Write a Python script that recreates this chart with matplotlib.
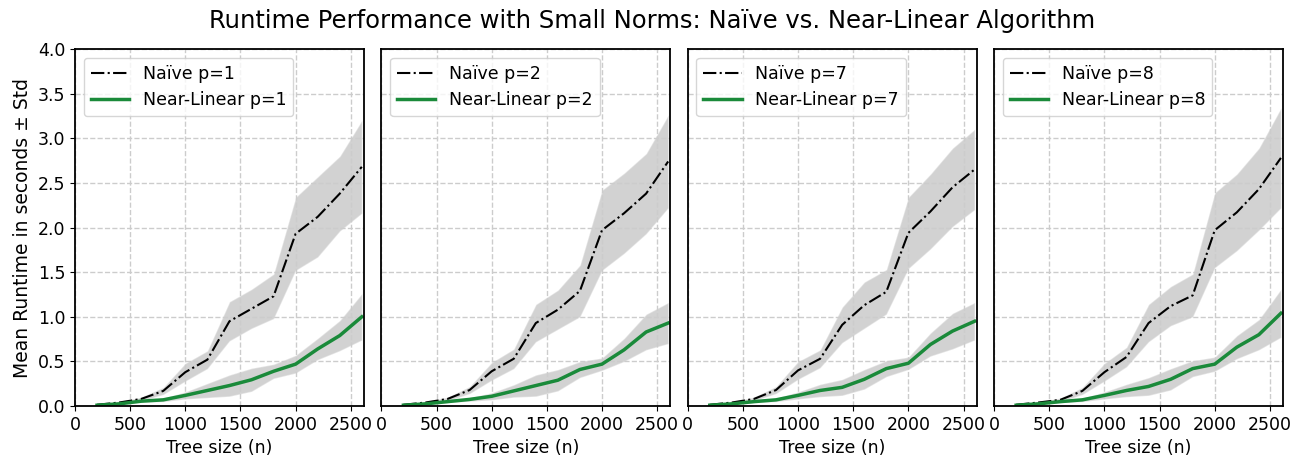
import numpy as np
import matplotlib
matplotlib.use("Agg")
import matplotlib.pyplot as plt

# tree sizes
sizes = [200, 400, 600, 800, 1000, 1200, 1400, 1600, 1800, 2000, 2200, 2400, 2600]
norms = [1, 2, 7, 8]

# mean runtimes (seconds)
naive_p1 = [0.015, 0.04, 0.08, 0.17, 0.38, 0.52, 0.95, 1.09, 1.23, 1.93, 2.12, 2.38, 2.68]
naive_p2 = [0.015, 0.04, 0.08, 0.18, 0.39, 0.53, 0.93, 1.08, 1.29, 1.97, 2.16, 2.38, 2.74]
naive_p7 = [0.015, 0.04, 0.08, 0.18, 0.40, 0.53, 0.91, 1.13, 1.28, 1.94, 2.18, 2.45, 2.65]
naive_p8 = [0.015, 0.04, 0.07, 0.17, 0.38, 0.55, 0.93, 1.12, 1.24, 1.97, 2.17, 2.43, 2.78]

naive_std_p1 = [0.005, 0.01, 0.02, 0.04, 0.10, 0.10, 0.22, 0.22, 0.25, 0.41, 0.45, 0.42, 0.52]
naive_std_p2 = [0.005, 0.01, 0.02, 0.04, 0.10, 0.11, 0.21, 0.22, 0.29, 0.45, 0.45, 0.45, 0.52]
naive_std_p7 = [0.005, 0.01, 0.02, 0.04, 0.10, 0.10, 0.20, 0.26, 0.25, 0.40, 0.42, 0.44, 0.45]
naive_std_p8 = [0.005, 0.01, 0.02, 0.04, 0.10, 0.11, 0.21, 0.22, 0.24, 0.42, 0.43, 0.46, 0.56]

near_p1 = [0.01, 0.025, 0.055, 0.07, 0.12, 0.175, 0.23, 0.295, 0.39, 0.47, 0.64, 0.79, 1.00]
near_p2 = [0.01, 0.025, 0.05, 0.075, 0.11, 0.17, 0.23, 0.29, 0.41, 0.47, 0.63, 0.83, 0.93]
near_p7 = [0.01, 0.025, 0.05, 0.07, 0.12, 0.175, 0.21, 0.30, 0.42, 0.48, 0.69, 0.84, 0.95]
near_p8 = [0.01, 0.025, 0.05, 0.07, 0.12, 0.175, 0.22, 0.30, 0.42, 0.47, 0.66, 0.80, 1.04]

near_std_p1 = [0.003, 0.005, 0.01, 0.02, 0.04, 0.08, 0.12, 0.13, 0.08, 0.10, 0.12, 0.17, 0.26]
near_std_p2 = [0.003, 0.005, 0.01, 0.02, 0.04, 0.07, 0.12, 0.12, 0.09, 0.07, 0.13, 0.20, 0.23]
near_std_p7 = [0.003, 0.005, 0.01, 0.02, 0.04, 0.07, 0.09, 0.11, 0.09, 0.07, 0.13, 0.20, 0.21]
near_std_p8 = [0.003, 0.005, 0.01, 0.02, 0.04, 0.07, 0.10, 0.12, 0.09, 0.08, 0.13, 0.17, 0.27]

naive = [naive_p1, naive_p2, naive_p7, naive_p8]
naive_std = [naive_std_p1, naive_std_p2, naive_std_p7, naive_std_p8]
near = [near_p1, near_p2, near_p7, near_p8]
near_std = [near_std_p1, near_std_p2, near_std_p7, near_std_p8]

GREEN = "#1a8a3a"

fig, axes = plt.subplots(1, 4, figsize=(13.04, 4.62), dpi=100, sharey=True)
fig.subplots_adjust(left=0.0575, right=0.984, top=0.894, bottom=0.121, wspace=0.06)

x = np.array(sizes)
for i, ax in enumerate(axes):
    p = norms[i]
    m1, s1 = np.array(naive[i]), np.array(naive_std[i])
    m2, s2 = np.array(near[i]), np.array(near_std[i])

    ax.plot(x, m1, color="black", ls="-.", lw=1.5, label=f"Naïve p={p}")
    ax.fill_between(x, m1 - s1, m1 + s1, color="gray", alpha=0.35, edgecolor="white", lw=1)
    ax.plot(x, m2, color=GREEN, ls="-", lw=2.5, label=f"Near-Linear p={p}")
    ax.fill_between(x, m2 - s2, m2 + s2, color="gray", alpha=0.35, edgecolor="white", lw=1)

    ax.set_xlim(0, 2620)
    ax.set_ylim(0, 4.0)
    ax.set_xticks([0, 500, 1000, 1500, 2000, 2500])
    ax.set_yticks(np.arange(0, 4.01, 0.5))
    ax.grid(True, ls="--", color="#cccccc", lw=1)
    ax.tick_params(labelsize=12.5)
    if i > 0:
        ax.tick_params(axis="y", left=False)
    ax.set_xlabel("Tree size (n)", fontsize=12.5)
    ax.legend(loc="upper left", fontsize=12.5, handlelength=2.2)
    for sp in ax.spines.values():
        sp.set_linewidth(1.3)

axes[0].set_ylabel("Mean Runtime in seconds ± Std", fontsize=13.5)
fig.suptitle("Runtime Performance with Small Norms: Naïve vs. Near-Linear Algorithm",
             fontsize=17.5, y=0.955, va="center")

plt.savefig("out.png")
